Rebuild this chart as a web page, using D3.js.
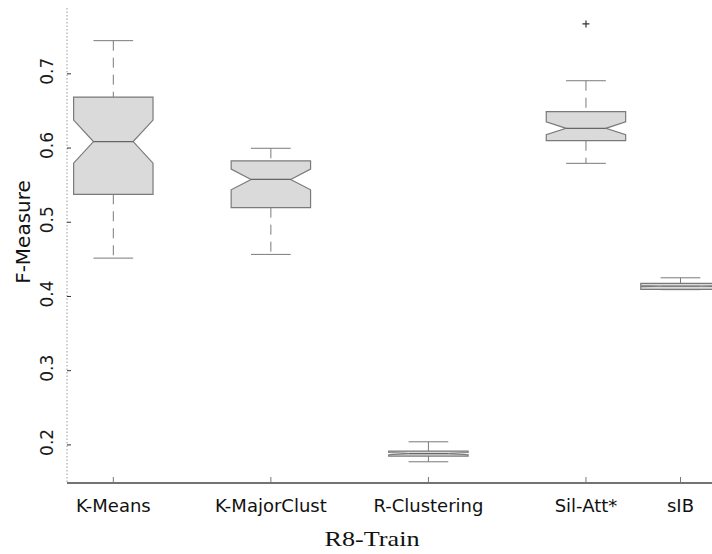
<!DOCTYPE html>
<html>
<head>
<meta charset="utf-8">
<script src="https://cdn.jsdelivr.net/npm/d3@7"></script>
<style>
  body { margin: 0; background: #fff; }
  svg { display: block; }
</style>
</head>
<body>
<svg class="chart" width="712" height="554"></svg>
<script>
// values (F-Measure, R8-Train)
const categories = ["K-Means", "K-MajorClust", "R-Clustering", "Sil-Att*", "sIB"];
const positions = [1, 2, 3, 4, 4.6];
const whiskerLow = [0.451, 0.456, 0.1766, 0.5787, 0.4085];
const q1 = [0.537, 0.519, 0.1843, 0.6092, 0.4089];
const medians = [0.608, 0.557, 0.1876, 0.6259, 0.4133];
const q3 = [0.668, 0.582, 0.191, 0.6483, 0.417];
const whiskerHigh = [0.744, 0.599, 0.2035, 0.690, 0.4245];
const notchLow = [0.579, 0.543, 0.1861, 0.6172, 0.4125];
const notchHigh = [0.637, 0.571, 0.1891, 0.6346, 0.4141];
const outliers = [[], [], [], [0.7665], []];
const yTicks = [0.2, 0.3, 0.4, 0.5, 0.6, 0.7];

const svg = d3.select(".chart");

const x = d3.scaleLinear().domain([0.706, 4.8]).range([67, 712]);
const y = d3.scaleLinear().domain([0.148, 0.788]).range([483, 8]);

const boxHalf = 0.252; // in position units
const stroke = "#7a7a7a";

const boxes = categories.map((c, i) => ({
  name: c,
  pos: positions[i],
  lo: whiskerLow[i],
  q1: q1[i],
  med: medians[i],
  q3: q3[i],
  hi: whiskerHigh[i],
  nlo: notchLow[i],
  nhi: notchHigh[i],
  out: outliers[i],
}));

// y axis: dotted line with short ticks
svg
  .append("line")
  .attr("x1", 67)
  .attr("x2", 67)
  .attr("y1", y.range()[1])
  .attr("y2", y.range()[0])
  .attr("stroke", "#999")
  .attr("stroke-width", 1)
  .attr("stroke-dasharray", "1.5,2");

const yAxis = d3
  .axisRight(y)
  .tickValues(yTicks)
  .tickSize(4)
  .tickFormat("");

svg
  .append("g")
  .attr("transform", "translate(67,0)")
  .call(yAxis)
  .call((g) => g.select(".domain").remove())
  .call((g) => g.selectAll("line").attr("stroke", "#333"));

svg
  .append("g")
  .selectAll("text")
  .data(yTicks)
  .enter()
  .append("text")
  .attr("transform", (d) => `translate(53,${y(d) - 2}) rotate(-90)`)
  .attr("text-anchor", "middle")
  .attr("font-family", "DejaVu Sans")
  .attr("font-size", 17)
  .attr("fill", "#1a1a1a")
  .text((d) => d3.format(".1f")(d));

svg
  .append("text")
  .attr("transform", "translate(30,232) rotate(-90)")
  .attr("text-anchor", "middle")
  .attr("font-family", "DejaVu Sans")
  .attr("font-size", 20)
  .attr("fill", "#111")
  .text("F-Measure");

// x axis
svg
  .append("line")
  .attr("x1", 67)
  .attr("x2", 712)
  .attr("y1", 483)
  .attr("y2", 483)
  .attr("stroke", "#444")
  .attr("stroke-width", 1.5);

svg
  .append("g")
  .selectAll("line")
  .data(boxes)
  .enter()
  .append("line")
  .attr("x1", (d) => x(d.pos))
  .attr("x2", (d) => x(d.pos))
  .attr("y1", 483)
  .attr("y2", 477)
  .attr("stroke", "#777");

svg
  .append("g")
  .selectAll("text")
  .data(boxes)
  .enter()
  .append("text")
  .attr("x", (d) => x(d.pos))
  .attr("y", 512)
  .attr("text-anchor", "middle")
  .attr("font-family", "DejaVu Sans")
  .attr("font-size", 18)
  .attr("fill", "#111")
  .text((d) => d.name);

svg
  .append("text")
  .attr("x", 372)
  .attr("y", 546)
  .attr("text-anchor", "middle")
  .attr("font-family", "Liberation Serif")
  .attr("font-size", 21)
  .attr("textLength", 95)
  .attr("lengthAdjust", "spacingAndGlyphs")
  .attr("fill", "#111")
  .text("R8-Train");

// boxes
const box = svg
  .append("g")
  .selectAll("g")
  .data(boxes)
  .enter()
  .append("g");

// dashed whiskers
box
  .append("line")
  .attr("x1", (d) => x(d.pos))
  .attr("x2", (d) => x(d.pos))
  .attr("y1", (d) => y(d.hi))
  .attr("y2", (d) => y(d.q3))
  .attr("stroke", stroke)
  .attr("stroke-dasharray", "10,7");

box
  .append("line")
  .attr("x1", (d) => x(d.pos))
  .attr("x2", (d) => x(d.pos))
  .attr("y1", (d) => y(d.q1))
  .attr("y2", (d) => y(d.lo))
  .attr("stroke", stroke)
  .attr("stroke-dasharray", "10,7");

// whisker caps
box
  .selectAll(".cap")
  .data((d) => [d.lo, d.hi].map((v) => ({ v, pos: d.pos })))
  .enter()
  .append("line")
  .attr("x1", (d) => x(d.pos - boxHalf / 2))
  .attr("x2", (d) => x(d.pos + boxHalf / 2))
  .attr("y1", (d) => y(d.v))
  .attr("y2", (d) => y(d.v))
  .attr("stroke", stroke);

// notched box outline
function notchPath(d) {
  const l = x(d.pos - boxHalf),
    r = x(d.pos + boxHalf),
    nl = x(d.pos - boxHalf / 2),
    nr = x(d.pos + boxHalf / 2);
  const pts = [
    [l, y(d.q3)],
    [r, y(d.q3)],
    [r, y(d.nhi)],
    [nr, y(d.med)],
    [r, y(d.nlo)],
    [r, y(d.q1)],
    [l, y(d.q1)],
    [l, y(d.nlo)],
    [nl, y(d.med)],
    [l, y(d.nhi)],
  ];
  return d3.line()(pts) + "Z";
}

box
  .append("path")
  .attr("d", notchPath)
  .attr("fill", "#dadada")
  .attr("stroke", stroke)
  .attr("stroke-width", 1.2);

// median
box
  .append("line")
  .attr("x1", (d) => x(d.pos - boxHalf / 2))
  .attr("x2", (d) => x(d.pos + boxHalf / 2))
  .attr("y1", (d) => y(d.med))
  .attr("y2", (d) => y(d.med))
  .attr("stroke", "#666")
  .attr("stroke-width", 1.2);

// outliers drawn as small '+' marks
box
  .selectAll(".out")
  .data((d) => d.out.map((v) => ({ v, pos: d.pos })))
  .enter()
  .append("path")
  .attr("d", (d) => {
    const cx = x(d.pos),
      cy = y(d.v);
    return `M${cx - 3.5},${cy}H${cx + 3.5}M${cx},${cy - 3.5}V${cy + 3.5}`;
  })
  .attr("stroke", "#333")
  .attr("stroke-width", 1.2);
</script>
</body>
</html>
